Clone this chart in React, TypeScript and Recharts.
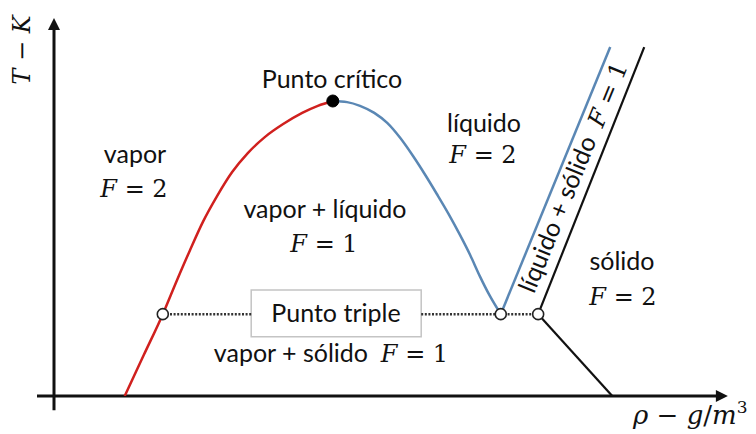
import React from "react";
import {
  LineChart,
  Line,
  XAxis,
  YAxis,
  ReferenceLine,
  ReferenceDot,
  ReferenceArea,
} from "recharts";

// density (x) vs temperature (y), arbitrary 0-100 units
const vaporCurve = [
  { x: 10.4, y: 0 },
  { x: 13.2, y: 11.0 },
  { x: 16.0, y: 22.0 },
  { x: 18.1, y: 31.2 },
  { x: 20.0, y: 39.2 },
  { x: 21.9, y: 46.8 },
  { x: 24.0, y: 53.8 },
  { x: 26.2, y: 60.2 },
  { x: 28.5, y: 65.3 },
  { x: 31.0, y: 69.6 },
  { x: 33.7, y: 73.1 },
  { x: 36.5, y: 76.1 },
  { x: 38.8, y: 78.0 },
  { x: 41.0, y: 79.3 },
];

const liquidCurve = [
  { x: 41.0, y: 79.3 },
  { x: 43.1, y: 79.0 },
  { x: 45.0, y: 78.0 },
  { x: 47.1, y: 76.1 },
  { x: 49.0, y: 73.4 },
  { x: 50.9, y: 69.4 },
  { x: 52.8, y: 64.5 },
  { x: 54.6, y: 59.4 },
  { x: 56.3, y: 54.3 },
  { x: 58.1, y: 48.7 },
  { x: 59.7, y: 43.3 },
  { x: 61.2, y: 37.9 },
  { x: 62.6, y: 32.3 },
  { x: 64.1, y: 26.9 },
  { x: 65.7, y: 22.0 },
];

const triple = { y: 22.0, vapor: 16.0, liquid: 65.7, solid: 71.2 };
const critical = { x: 41.0, y: 79.3 };
const liquidSolidLeft = [
  { x: 65.7, y: 22.0 },
  { x: 81.8, y: 93.8 },
];
const liquidSolidRight = [
  { x: 71.2, y: 22.0 },
  { x: 86.8, y: 93.8 },
];
const solidVapor = [
  { x: 71.2, y: 22.0 },
  { x: 82.1, y: 0 },
];
const tripleBox = { x1: 29.0, x2: 54.0, y1: 15.9, y2: 28.5 };

const RED = "#d0201e";
const BLUE = "#5a87b4";
const INK = "#111";
const SANS = "Lato, 'Open Sans', sans-serif";
const MATH = "'DejaVu Serif', serif";
const GAP = "\u00a0\u00a0";

const ArrowRight = (p: any) => (
  <polygon
    points={`${p.cx},${p.cy} ${p.cx - 12},${p.cy - 6} ${p.cx - 12},${p.cy + 6}`}
    fill={INK}
  />
);
const ArrowUp = (p: any) => (
  <polygon
    points={`${p.cx},${p.cy} ${p.cx - 6},${p.cy + 12} ${p.cx + 6},${p.cy + 12}`}
    fill={INK}
  />
);

const F = ({ v }: { v: string }) => (
  <>
    <tspan fontFamily={MATH} fontStyle="italic">F</tspan>
    <tspan fontFamily={MATH}>{` = ${v}`}</tspan>
  </>
);

const Labels = () => (
  <svg
    width={756}
    height={434}
    style={{ position: "absolute", left: 0, top: 0, pointerEvents: "none" }}
    fontSize={25}
    fill="#111"
  >
    <text x={332} y={88} textAnchor="middle" fontFamily={SANS}>Punto crítico</text>

    <text x={135} y={163} textAnchor="middle" fontFamily={SANS}>vapor</text>
    <text x={134} y={197} textAnchor="middle" fontSize={24}><F v="2" /></text>

    <text x={325} y={218} textAnchor="middle" fontFamily={SANS}>vapor + líquido</text>
    <text x={324} y={252} textAnchor="middle" fontSize={24}><F v="1" /></text>

    <text x={484} y={132} textAnchor="middle" fontFamily={SANS}>líquido</text>
    <text x={483} y={163} textAnchor="middle" fontSize={24}><F v="2" /></text>

    <text x={622} y={270} textAnchor="middle" fontFamily={SANS}>sólido</text>
    <text x={623} y={305} textAnchor="middle" fontSize={24}><F v="2" /></text>

    <text x={336} y={322} textAnchor="middle" fontFamily={SANS}>Punto triple</text>

    <text x={331} y={362} textAnchor="middle">
      <tspan fontFamily={SANS}>{`vapor + sólido${GAP}`}</tspan>
      <tspan fontSize={24}><F v="1" /></tspan>
    </text>

    <text
      x={0}
      y={0}
      textAnchor="middle"
      dominantBaseline="middle"
      transform="translate(575 178) rotate(-67.8)"
    >
      <tspan fontFamily={SANS}>{`líquido + sólido${GAP}`}</tspan>
      <tspan fontSize={24}><F v="1" /></tspan>
    </text>

    <text
      x={0}
      y={0}
      textAnchor="middle"
      transform="translate(30 50) rotate(-90)"
      fontFamily={MATH}
      fontSize={24}
    >
      <tspan fontStyle="italic">T</tspan>
      <tspan>{" − "}</tspan>
      <tspan fontStyle="italic">K</tspan>
    </text>

    <text x={633} y={424} fontFamily={MATH} fontSize={26}>
      <tspan fontStyle="italic">ρ</tspan>
      <tspan>{" − "}</tspan>
      <tspan fontStyle="italic">g</tspan>
      <tspan>/</tspan>
      <tspan fontStyle="italic">m</tspan>
      <tspan fontSize={17} dy={-11}>3</tspan>
    </text>
  </svg>
);

export default function App() {
  return (
    <div
      style={{
        position: "absolute",
        left: 0,
        top: 0,
        width: 756,
        height: 434,
        background: "#fff",
      }}
    >
      <LineChart
        width={756}
        height={434}
        margin={{ top: 24, right: 22, bottom: 38, left: 54 }}
      >
        <XAxis type="number" dataKey="x" domain={[0, 100]} hide allowDataOverflow />
        <YAxis type="number" dataKey="y" domain={[0, 100]} hide allowDataOverflow />

        {/* axes with arrow heads */}
        <ReferenceLine
          segment={[{ x: -2.5, y: 0 }, { x: 97.5, y: 0 }]}
          stroke={INK}
          strokeWidth={3}
          ifOverflow="visible"
        />
        <ReferenceLine
          segment={[{ x: 0, y: -3.8 }, { x: 0, y: 99 }]}
          stroke={INK}
          strokeWidth={3}
          ifOverflow="visible"
        />
        <ReferenceDot x={99.1} y={0} ifOverflow="visible" shape={ArrowRight} />
        <ReferenceDot x={0} y={101.6} ifOverflow="visible" shape={ArrowUp} />

        {/* triple point line, broken around its label box */}
        <ReferenceLine
          segment={[
            { x: triple.vapor, y: triple.y },
            { x: tripleBox.x1, y: triple.y },
          ]}
          stroke="#333"
          strokeWidth={2.5}
          strokeDasharray="2 1.6"
        />
        <ReferenceLine
          segment={[
            { x: tripleBox.x2, y: triple.y },
            { x: triple.solid, y: triple.y },
          ]}
          stroke="#333"
          strokeWidth={2.5}
          strokeDasharray="2 1.6"
        />
        <ReferenceArea
          x1={tripleBox.x1}
          x2={tripleBox.x2}
          y1={tripleBox.y1}
          y2={tripleBox.y2}
          fill="#fff"
          fillOpacity={1}
          stroke="#c4c4c4"
          strokeWidth={1.5}
        />

        <Line
          data={vaporCurve}
          dataKey="y"
          type="monotone"
          stroke={RED}
          strokeWidth={2.5}
          dot={false}
          isAnimationActive={false}
        />
        <Line
          data={liquidCurve}
          dataKey="y"
          type="monotone"
          stroke={BLUE}
          strokeWidth={2.5}
          dot={false}
          isAnimationActive={false}
        />
        <Line
          data={liquidSolidLeft}
          dataKey="y"
          type="linear"
          stroke={BLUE}
          strokeWidth={2.5}
          dot={false}
          isAnimationActive={false}
        />
        <Line
          data={liquidSolidRight}
          dataKey="y"
          type="linear"
          stroke={INK}
          strokeWidth={2.2}
          dot={false}
          isAnimationActive={false}
        />
        <Line
          data={solidVapor}
          dataKey="y"
          type="linear"
          stroke={INK}
          strokeWidth={2.2}
          dot={false}
          isAnimationActive={false}
        />

        <ReferenceDot x={triple.vapor} y={triple.y} r={5.5} fill="#fff" stroke="#222" strokeWidth={1.6} />
        <ReferenceDot x={triple.liquid} y={triple.y} r={5.5} fill="#fff" stroke="#222" strokeWidth={1.6} />
        <ReferenceDot x={triple.solid} y={triple.y} r={5.5} fill="#fff" stroke="#222" strokeWidth={1.6} />
        <ReferenceDot x={critical.x} y={critical.y} r={6} fill="#000" stroke="#000" />
      </LineChart>
      <Labels />
    </div>
  );
}
